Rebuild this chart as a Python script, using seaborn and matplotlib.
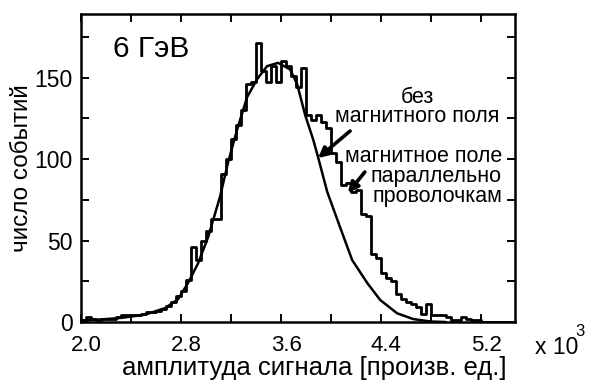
import numpy as np
import pandas as pd
import matplotlib
matplotlib.use("Agg")
import matplotlib.pyplot as plt
from matplotlib.transforms import ScaledTranslation
import seaborn as sns

# Signal amplitude spectrum at 6 GeV (units of 10^3)
bin_start = 2.00
bin_width = 0.04
# event counts per amplitude bin, magnetic field parallel to the wires
hist_counts = [
    1, 3, 2, 1, 2, 2, 2, 3, 4, 4,
    4, 4, 5, 6, 6, 7, 8, 10, 12, 16,
    19, 26, 46, 38, 50, 56, 63, 63, 91, 100,
    112, 121, 130, 146, 147, 171, 154, 147, 157, 147,
    160, 157, 151, 144, 156, 127, 124, 127, 123, 119,
    104, 98, 84, 85, 80, 81, 66, 65, 42, 39,
    30, 27, 25, 17, 14, 12, 11, 9, 5, 11,
    4, 4, 4, 3, 1, 1, 3, 2, 1, 1,
    0, 0, 0, 0, 0, 0, 0,
]

# spectrum without magnetic field (smooth curve)
curve_amp = [2.000, 2.152, 2.320, 2.512, 2.672, 2.776, 2.856, 2.936, 3.016, 3.112,
             3.176, 3.248, 3.328, 3.408, 3.488, 3.576, 3.672, 3.728, 3.792, 3.856,
             3.896, 3.968, 4.072, 4.168, 4.288, 4.392, 4.528, 4.656, 4.792, 4.912]
curve_counts = [1.0, 1.5, 2.5, 4.5, 8.5, 14, 24, 36, 52, 77,
                98, 118, 138, 149, 157, 159, 155, 146, 127, 112,
                101, 80, 58, 38, 24, 13.5, 5.3, 1.8, 0.3, 0]

x_major = [2.0, 2.8, 3.6, 4.4, 5.2]
x_minor = [2.4, 3.2, 4.0, 4.8]
y_major = [0, 50, 100, 150]
y_minor = [25, 75, 125, 175]

sns.set_style("ticks", rc={"text.color": "black", "axes.labelcolor": "black",
                           "xtick.color": "black", "ytick.color": "black",
                           "axes.edgecolor": "black"})
plt.rcParams["font.family"] = ["Liberation Sans", "DejaVu Sans"]

fig = plt.figure(figsize=(5.9, 3.83), dpi=100)
ax = fig.add_axes([0.1373, 0.1593, 0.7356, 0.8042])

edges = [round(bin_start + bin_width * i, 4) for i in range(len(hist_counts) + 1)]
centers = [(a + b) / 2 for a, b in zip(edges[:-1], edges[1:])]
hist_df = pd.DataFrame({"amp": centers, "n": hist_counts})
sns.histplot(data=hist_df, x="amp", weights="n", bins=edges, element="step",
             fill=False, color="black", linewidth=2.0, ax=ax)

curve_df = pd.DataFrame({"amp": curve_amp, "n": curve_counts})
sns.lineplot(data=curve_df, x="amp", y="n", color="black", linewidth=1.8,
             sort=True, estimator=None, ax=ax)

ax.set_xlim(2.0, 5.47)
ax.set_ylim(0, 189)

ax.set_xticks(x_major)
ax.set_xticklabels([f"{v:.1f}" for v in x_major])
ax.set_xticks(x_minor, minor=True)
ax.set_yticks(y_major)
ax.set_yticks(y_minor, minor=True)

for which in ("major", "minor"):
    ax.tick_params(axis="both", which=which, direction="in", length=6, width=1.4,
                   top=True, right=True, color="black")
ax.tick_params(axis="x", which="major", labelsize=16, pad=9.5)
ax.tick_params(axis="y", which="major", labelsize=16.5, pad=6)

# amplitude labels sit slightly to the right of their ticks
shift = ScaledTranslation(5 / 100, 0, fig.dpi_scale_trans)
for lbl in ax.get_xticklabels():
    lbl.set_transform(lbl.get_transform() + shift)

for sp in ax.spines.values():
    sp.set_visible(True)
    sp.set_linewidth(1.8)
    sp.set_color("black")

ax.set_xlabel("амплитуда сигнала [произв. ед.]", fontsize=18.5, labelpad=0)
ax.xaxis.label.set_x(0.537)
ax.set_ylabel("число событий", fontsize=17.5, labelpad=1)

ax.text(0.074, 0.86, "6 ГэВ", transform=ax.transAxes, fontsize=21.5,
        ha="left", va="baseline")

ax.text(0.774, 0.698, "без\nмагнитного поля", transform=ax.transAxes,
        fontsize=15.5, ha="center", va="center", multialignment="center",
        linespacing=0.85)
ax.text(0.970, 0.472, "магнитное поле\nпараллельно\nпроволочкам",
        transform=ax.transAxes, fontsize=15.5, ha="right", va="center",
        multialignment="right", linespacing=0.95)

arrow_kw = dict(arrowstyle="-|>", color="black", lw=2.6, mutation_scale=15,
                shrinkA=0, shrinkB=0)
ax.annotate("", xy=(0.546, 0.532), xytext=(0.620, 0.620),
            xycoords="axes fraction", textcoords="axes fraction",
            arrowprops=arrow_kw)
ax.annotate("", xy=(0.615, 0.419), xytext=(0.654, 0.487),
            xycoords="axes fraction", textcoords="axes fraction",
            arrowprops=arrow_kw)

fig.text(535 / 590, 1 - 348 / 383, "x 10", fontsize=16.5, ha="left", va="center")
fig.text(575 / 590, 1 - 332 / 383, "3", fontsize=12, ha="left", va="center")

fig.savefig("out.png", dpi=100)
